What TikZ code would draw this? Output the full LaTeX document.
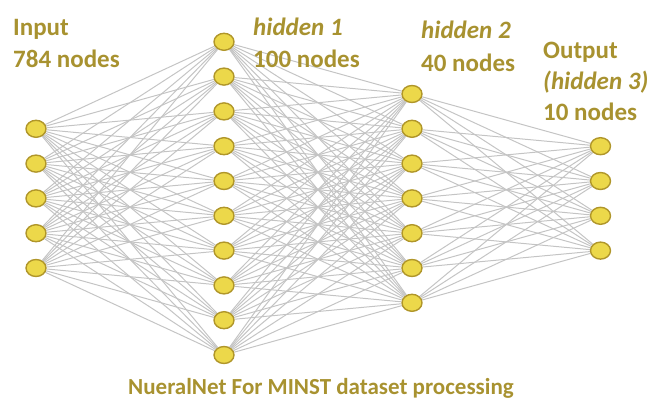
\documentclass[tikz,border=0pt]{standalone}
\usepackage{fontspec}
\setmainfont{Carlito}
\usepackage{tikz}
\usetikzlibrary{backgrounds,shapes.geometric}

\definecolor{nodefill}{RGB}{236,216,74}
\definecolor{nodeline}{RGB}{176,150,42}
\definecolor{wire}{RGB}{196,196,196}
\definecolor{labeltext}{RGB}{168,146,48}

\tikzset{
  neuron/.style={ellipse, draw=nodeline, fill=nodefill, line width=1.4pt,
    minimum width=20pt, minimum height=17pt, inner sep=0pt},
  wires/.style={draw=wire, line width=1pt},
  layertext/.style={anchor=base west, inner sep=0pt, text=labeltext,
    font=\fontsize{25}{30}\selectfont\bfseries},
  captiontext/.style={anchor=base west, inner sep=0pt, text=labeltext,
    font=\fontsize{23}{28}\selectfont\bfseries}
}

\begin{document}
\begin{tikzpicture}[x=1pt, y=-1pt]
\useasboundingbox (0,0) rectangle (656,412);

%Layers
\foreach \n in {1,...,5}
  \node[neuron] (in\n) at (36, {198.4+(\n-3)*34.8}) {};
\foreach \n in {1,...,10}
  \node[neuron] (ha\n) at (224, {198.4+(\n-5.5)*34.8}) {};
\foreach \n in {1,...,7}
  \node[neuron] (hb\n) at (412, {198.4+(\n-4)*34.8}) {};
\foreach \n in {1,...,4}
  \node[neuron] (out\n) at (600.5, {198.4+(\n-2.5)*34.8}) {};

%Connections
\begin{scope}[on background layer]
\foreach \a in {1,...,5}
  \foreach \b in {1,...,10}
    \draw[wires] (in\a) -- (ha\b);
\foreach \a in {1,...,10}
  \foreach \b in {1,...,7}
    \draw[wires] (ha\a) -- (hb\b);
\foreach \a in {1,...,7}
  \foreach \b in {1,...,4}
    \draw[wires] (hb\a) -- (out\b);
\end{scope}

%Labels
\node[layertext] (inname) at (13,36) {Input};
\node[layertext] (insize) at (13,68) {784 nodes};
\node[layertext] (haname) at (253,36) {\itshape hidden 1};
\node[layertext] (hasize) at (253,67) {100 nodes};
\node[layertext] (hbname) at (421,39) {\itshape hidden 2};
\node[layertext] (hbsize) at (421,71) {40 nodes};
\node[layertext] (outname) at (543,59) {Output};
\node[layertext] (outalt) at (543,89) {\itshape (hidden 3)};
\node[layertext] (outsize) at (543,120) {10 nodes};

%Caption
\node[captiontext] (caption) at (128,394) {NueralNet For MINST dataset processing};

\end{tikzpicture}
\end{document}
